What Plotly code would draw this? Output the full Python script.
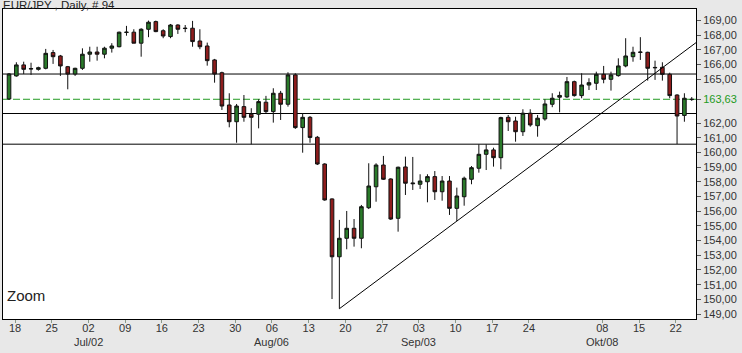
import plotly.graph_objects as go
import pandas as pd

# ---- data (EUR/JPY daily, 94 bars, 15 Jun 2007 - 24 Oct 2007) ----
dates = pd.bdate_range("2007-06-15", periods=94).strftime("%Y-%m-%d").tolist()

opens = [163.65, 165.22, 165.97, 165.72, 165.67, 165.74, 166.81, 166.58, 165.85, 165.35,
         165.74, 166.70, 166.85, 166.70, 167.11, 167.21, 168.18, 168.20, 167.45, 168.40,
         168.92, 168.30, 167.90, 168.69, 168.48, 168.47, 167.60, 167.26, 166.31, 165.44,
         163.24, 162.10, 163.13, 162.61, 162.61, 163.43, 162.79, 164.04, 163.29, 165.29,
         161.70, 162.40, 161.04, 159.22, 156.84, 152.90, 154.16, 154.84, 154.16, 156.24,
         157.67, 159.15, 158.20, 155.52, 159.02, 157.93, 157.84, 158.01, 158.36, 157.33,
         158.06, 156.20, 156.99, 158.18, 158.93, 159.88, 160.18, 159.65, 162.40, 162.15,
         161.42, 162.68, 161.83, 162.29, 163.29, 163.77, 163.79, 164.83, 163.88, 164.60,
         164.72, 165.33, 164.99, 165.24, 165.90, 166.53, 166.85, 166.83, 165.80, 165.81,
         165.33, 163.92, 162.53, 163.61]
highs = [165.42, 166.15, 166.19, 166.12, 165.85, 167.06, 166.99, 166.65, 165.90, 165.78,
         167.10, 167.21, 167.21, 167.21, 167.45, 168.24, 168.63, 168.40, 168.47, 168.99,
         168.99, 168.40, 168.76, 168.74, 168.69, 168.97, 168.40, 167.49, 166.38, 165.51,
         164.04, 163.31, 163.92, 163.02, 163.63, 163.86, 164.38, 164.20, 165.47, 165.40,
         162.68, 162.49, 161.13, 159.27, 156.88, 155.41, 156.02, 155.47, 156.43, 159.27,
         159.27, 159.77, 158.25, 159.04, 159.72, 159.70, 158.52, 158.52, 158.74, 158.40,
         158.40, 157.61, 158.36, 159.08, 160.56, 160.56, 160.33, 162.44, 162.56, 162.44,
         162.95, 162.95, 162.56, 163.63, 164.04, 164.15, 165.15, 164.90, 165.40, 165.06,
         165.51, 165.90, 165.51, 166.42, 167.79, 167.21, 167.86, 166.87, 166.26, 166.15,
         165.44, 163.97, 164.04, 163.78]
lows = [163.58, 165.17, 165.35, 165.29, 165.58, 165.67, 166.04, 165.22, 164.31, 165.22,
        165.63, 166.19, 166.26, 166.42, 166.81, 167.17, 167.96, 167.45, 166.53, 167.86,
        168.20, 167.79, 167.79, 168.08, 168.20, 167.21, 167.04, 165.92, 164.76, 162.90,
        161.72, 160.67, 162.10, 160.56, 161.65, 162.68, 162.04, 162.22, 163.13, 161.61,
        159.99, 160.67, 159.15, 156.72, 150.02, 149.36, 153.41, 153.59, 153.48, 156.15,
        156.65, 158.13, 155.41, 154.61, 157.11, 157.45, 157.52, 156.61, 156.77, 156.72,
        155.75, 155.33, 156.38, 157.84, 158.63, 158.81, 159.04, 158.86, 161.47, 160.74,
        161.13, 161.76, 161.08, 162.17, 163.09, 162.74, 163.72, 163.81, 163.70, 164.26,
        164.26, 164.72, 164.22, 165.17, 165.81, 166.19, 166.31, 164.90, 164.95, 164.90,
        163.70, 160.58, 162.10, 163.52]
closes = [165.35, 165.97, 165.67, 165.70, 165.78, 166.76, 166.53, 165.90, 165.35, 165.74,
          166.70, 166.85, 166.70, 167.11, 167.26, 168.20, 168.20, 167.45, 168.40, 168.88,
          168.24, 167.94, 168.69, 168.40, 168.45, 167.56, 167.21, 166.26, 165.35, 163.17,
          162.10, 163.17, 162.40, 162.40, 163.47, 162.79, 164.04, 163.29, 165.29, 161.70,
          162.40, 161.03, 159.22, 156.77, 152.90, 154.16, 154.84, 154.16, 156.31, 157.72,
          159.15, 158.18, 155.47, 159.00, 157.91, 157.88, 158.06, 158.36, 157.33, 158.06,
          156.20, 157.04, 158.25, 158.97, 159.88, 160.18, 159.65, 162.38, 162.10, 161.42,
          162.68, 161.88, 162.34, 163.31, 163.70, 163.89, 164.83, 163.88, 164.60, 164.76,
          165.33, 164.99, 165.29, 165.90, 166.58, 166.83, 166.83, 165.74, 165.78, 165.33,
          163.88, 162.49, 163.70, 163.63]

# horizontal support / resistance levels and last price
levels = [165.35, 162.66, 160.57]
last_price = 163.63
# trend line anchored on two lows (bar indices)
trend_anchor = [45, 61]

# axis ticks
x_tick_idx = [1, 6, 11, 16, 21, 26, 31, 36, 41, 46, 51, 56, 61, 66, 71, 81, 86, 91]
x_tick_text = ["18", "25", "02", "09", "16", "23", "30", "06", "13", "20",
               "27", "03", "10", "17", "24", "08", "15", "22"]
month_idx = [11, 36, 56, 81]
month_text = ["Jul/02", "Aug/06", "Sep/03", "Okt/08"]
y_tick_vals = [149, 150, 151, 152, 153, 154, 155, 156, 157, 158, 159, 160, 161, 162, 165, 166, 167, 168, 169]

# ---- figure ----
xs = list(range(len(opens)))
GREEN = "#2a7a2a"
RED = "#8e1d1d"
DASH_GREEN = "#229a22"
FONT = "Liberation Sans, Arial, sans-serif"
TICK_SHIFT = -0.18

fig = go.Figure()
fig.add_trace(go.Candlestick(
    x=xs, open=opens, high=highs, low=lows, close=closes,
    increasing=dict(line=dict(color="#111111", width=1), fillcolor=GREEN),
    decreasing=dict(line=dict(color="#111111", width=1), fillcolor=RED),
    whiskerwidth=0, showlegend=False, hoverinfo="skip",
))

# trend line through the two anchor lows, extended to the right
a, b = trend_anchor
slope = (lows[b] - lows[a]) / (b - a)
x_end = len(opens) + 2
fig.add_trace(go.Scatter(
    x=[a, x_end], y=[lows[a], lows[a] + slope * (x_end - a)],
    mode="lines", line=dict(color="#000000", width=1),
    showlegend=False, hoverinfo="skip",
))

shapes = []
for lv in levels:
    shapes.append(dict(type="line", xref="paper", x0=0, x1=1, yref="y", y0=lv, y1=lv,
                       line=dict(color="#000000", width=1), layer="below"))
shapes.append(dict(type="line", xref="paper", x0=0, x1=1, yref="y", y0=last_price, y1=last_price,
                   line=dict(color=DASH_GREEN, width=1, dash="7px,3px"), layer="below"))

y_vals = y_tick_vals + [last_price]
y_text = [f"{v:.2f}".replace(".", ",") for v in y_tick_vals]
y_text.append(f'<span style="color:{DASH_GREEN}">' + f"{last_price:.2f}".replace(".", ",") + "</span>")

annotations = [
    dict(text="EUR/JPY , Daily, # 94", xref="paper", yref="paper", x=-0.003, y=1.013,
         xanchor="left", yanchor="middle", showarrow=False,
         font=dict(family=FONT, size=11.5, color="#222222")),
    dict(text="Zoom", xref="paper", yref="paper", x=0.003, y=0.077,
         xanchor="left", yanchor="middle", showarrow=False,
         font=dict(family=FONT, size=15, color="#222222")),
]
for mi, mt in zip(month_idx, month_text):
    annotations.append(dict(text=mt, xref="x", yref="paper", x=mi + TICK_SHIFT, y=-0.074,
                            xanchor="center", yanchor="middle", showarrow=False,
                            font=dict(family=FONT, size=11, color="#333333")))

fig.update_layout(
    width=742, height=353,
    margin=dict(l=3, r=46, t=9, b=34),
    paper_bgcolor="#e8e8e8", plot_bgcolor="#ffffff",
    shapes=shapes, annotations=annotations,
    font=dict(family=FONT, size=11, color="#333333"),
    xaxis=dict(
        range=[-0.82, 93.58], rangeslider=dict(visible=False),
        tickmode="array", tickvals=[t + TICK_SHIFT for t in x_tick_idx], ticktext=x_tick_text,
        ticks="outside", ticklen=3, tickcolor="#8a9a8a", ticklabelstandoff=-4,
        showline=True, linecolor="#000000", linewidth=1, mirror=True,
        showgrid=False, zeroline=False,
        tickfont=dict(family=FONT, size=11, color="#333333"),
    ),
    yaxis=dict(
        range=[148.66, 169.78], side="right",
        tickmode="array", tickvals=y_vals, ticktext=y_text,
        ticks="outside", ticklen=4, tickcolor="#555555",
        showline=True, linecolor="#000000", linewidth=1, mirror=True,
        showgrid=False, zeroline=False,
        tickfont=dict(family=FONT, size=11, color="#333333"),
    ),
)

fig.write_html("out.html")
